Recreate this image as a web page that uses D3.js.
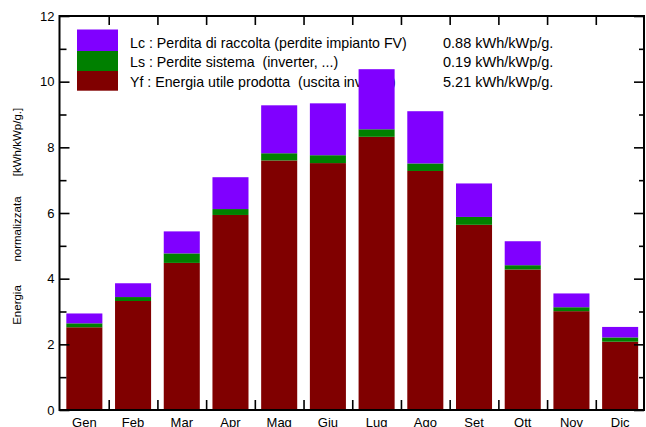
<!DOCTYPE html>
<html>
<head>
<meta charset="utf-8">
<script src="https://cdn.jsdelivr.net/npm/d3@7/dist/d3.min.js"></script>
<style>
  html, body { margin: 0; padding: 0; background: #fff; }
  svg { display: block; font-family: "Liberation Sans", Arial, sans-serif; }
</style>
</head>
<body>
<svg id="chart" width="646" height="427"></svg>
<script>
// ---- data ----
const months = ["Gen","Feb","Mar","Apr","Mag","Giu","Lug","Ago","Set","Ott","Nov","Dic"];
const yf = [2.52, 3.32, 4.48, 5.94, 7.60, 7.52, 8.32, 7.28, 5.64, 4.28, 3.01, 2.08];
const ls = [0.12, 0.12, 0.29, 0.18, 0.22, 0.24, 0.23, 0.23, 0.24, 0.13, 0.12, 0.13];
const lc = [0.30, 0.42, 0.67, 0.97, 1.46, 1.58, 1.83, 1.59, 1.02, 0.73, 0.42, 0.32];
const yMajorTicks = [0, 2, 4, 6, 8, 10, 12];
const yMinorTicks = [1, 3, 5, 7, 9, 11];
const legendLabels = [
  "Lc : Perdita di raccolta (perdite impianto FV)",
  "Ls : Perdite sistema  (inverter, ...)",
  "Yf : Energia utile prodotta  (uscita inverter)"
];
const legendValues = ["0.88 kWh/kWp/g.", "0.19 kWh/kWp/g.", "5.21 kWh/kWp/g."];
const yTitleParts = ["Energia", "normalizzata", "[kWh/kWp/g.]"];

// ---- layout ----
const L = 59.5, R = 644, T = 16, B = 410;
const colors = { Lc: "#8000ff", Ls: "#008000", Yf: "#800000" };

const svg = d3.select("#chart");
const rows = months.map((m, i) => ({ month: m, Yf: yf[i], Ls: ls[i], Lc: lc[i] }));

const x = d3.scaleBand().domain(months).range([60, 644.5]).paddingInner(0.26).paddingOuter(0.13);
const xb = d3.scaleLinear().domain([0, 12]).range([60, 644.5]);
const y = d3.scaleLinear().domain([0, 12]).range([B, T]);

// ---- legend (drawn before bars: bars overlap it) ----
const legend = svg.append("g");
const swatchKeys = ["Lc", "Ls", "Yf"];
const swY = [29.5, 51, 71, 90.7];
swatchKeys.forEach((k, i) => {
  legend.append("rect")
    .attr("x", 77).attr("y", swY[i])
    .attr("width", 41).attr("height", swY[i + 1] - swY[i])
    .attr("fill", colors[k]);
});
const baseY = [47.5, 67, 86.5];
legendLabels.forEach((t, i) => {
  legend.append("text").attr("x", 130).attr("y", baseY[i])
    .attr("font-size", 14.2).attr("fill", "#000")
    .style("white-space", "pre").text(t);
});
legendValues.forEach((t, i) => {
  legend.append("text").attr("x", 443).attr("y", baseY[i])
    .attr("font-size", 14.5).attr("fill", "#000").text(t);
});

// ---- bars ----
const stack = d3.stack().keys(["Yf", "Ls", "Lc"]);
const series = stack(rows);
svg.append("g").selectAll("g").data(series).join("g")
  .attr("fill", d => colors[d.key])
  .selectAll("rect").data(d => d).join("rect")
  .attr("x", d => x(d.data.month))
  .attr("width", x.bandwidth())
  .attr("y", d => y(d[1]))
  .attr("height", d => y(d[0]) - y(d[1]));

// ---- axes ----
function clean(g) { g.select(".domain").remove(); g.selectAll(".tick line").attr("stroke", "#000").attr("stroke-width", 1.6); }

svg.append("g").attr("transform", `translate(${L},0)`)
  .call(d3.axisLeft(y).tickValues(yMajorTicks).tickSize(-10).tickPadding(5).tickFormat(d3.format("d")))
  .call(clean)
  .call(g => g.selectAll("text").attr("font-size", 13).attr("fill", "#000").attr("font-family", "Liberation Sans, Arial, sans-serif"));
svg.append("g").attr("transform", `translate(${L},0)`)
  .call(d3.axisLeft(y).tickValues(yMinorTicks).tickSize(-7).tickFormat(""))
  .call(clean);
svg.append("g").attr("transform", `translate(${R},0)`)
  .call(d3.axisRight(y).tickValues(yMajorTicks).tickSize(-10).tickFormat(""))
  .call(clean);
svg.append("g").attr("transform", `translate(${R},0)`)
  .call(d3.axisRight(y).tickValues(yMinorTicks).tickSize(-5).tickFormat(""))
  .call(clean);
svg.append("g").attr("transform", `translate(0,${B})`)
  .call(d3.axisBottom(xb).tickValues(d3.range(1, 12)).tickSize(-10).tickFormat(""))
  .call(clean);
svg.append("g").attr("transform", `translate(0,${T})`)
  .call(d3.axisTop(xb).tickValues(d3.range(1, 12)).tickSize(-9).tickFormat(""))
  .call(clean);
svg.append("g").attr("transform", `translate(0,${B})`)
  .call(d3.axisBottom(x).tickSize(0).tickPadding(8))
  .call(g => g.select(".domain").remove())
  .call(g => g.selectAll("text").attr("font-size", 13).attr("fill", "#000").attr("font-family", "Liberation Sans, Arial, sans-serif"));

// frame
svg.append("rect").attr("x", L).attr("y", T).attr("width", R - L).attr("height", B - T)
  .attr("fill", "none").attr("stroke", "#000").attr("stroke-width", 2);

// ---- y title ----
const titleCenters = [305, 229, 142];
yTitleParts.forEach((t, i) => {
  svg.append("text")
    .attr("transform", `translate(21,${titleCenters[i]}) rotate(-90)`)
    .attr("text-anchor", "middle").attr("font-size", 11.5).attr("fill", "#000")
    .text(t);
});
</script>
</body>
</html>
